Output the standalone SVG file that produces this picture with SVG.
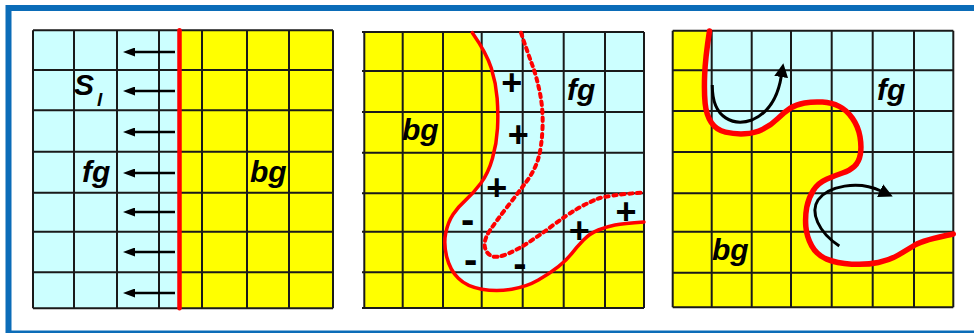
<svg xmlns="http://www.w3.org/2000/svg" width="974" height="333" viewBox="0 0 974 333">
<style>
.cy{fill:#CCFFFF}
.ye{fill:#FFFF00}
.grid{fill:none;stroke:#1a1a1a;stroke-width:2}
.lbl{font-family:"Liberation Sans",Arial,sans-serif;font-weight:bold;font-style:italic;font-size:30px;fill:#000}
.sign{font-family:"Liberation Sans",Arial,sans-serif;font-weight:bold;fill:#000;text-anchor:middle}
.red{fill:none;stroke:#FF0000;stroke-linecap:round;stroke-linejoin:round}
.arr1{fill:none;stroke:#000;stroke-width:2.3}
.arr2{fill:none;stroke:#000;stroke-width:3}
</style>
<defs>
<marker id="ah1" markerUnits="userSpaceOnUse" markerWidth="13" markerHeight="9" refX="1" refY="4.5" orient="auto"><path d="M0,0 L12,4.5 L0,9 Z" fill="#000"/></marker>
<marker id="ah2" markerUnits="userSpaceOnUse" markerWidth="15" markerHeight="14" refX="1" refY="7" orient="auto"><path d="M0,0 L14,7 L0,14 Z" fill="#000"/></marker>
</defs>
<rect width="974" height="333" fill="#FFFFFF"/>
<g id="frame"><rect x="8.5" y="8" width="980" height="325.5" fill="none" stroke="#0B6CB8" stroke-width="6"/></g>

<g id="panel1">
<rect class="cy" x="33" y="30.3" width="146.5" height="278"/>
<rect class="ye" x="179.5" y="30.3" width="153.5" height="278"/>
<path class="grid" d="M33,30.3V308.3M74,30.3V308.3M117,30.3V308.3M159,30.3V308.3M202,30.3V308.3M247,30.3V308.3M289,30.3V308.3M333,30.3V308.3M33,30.3H333M33,70H333M33,110.3H333M33,151.7H333M33,192.7H333M33,231.7H333M33,272.3H333M33,308.3H333"/>
<line class="red" x1="179.5" y1="30.3" x2="179.5" y2="308.3" stroke-width="4.5" stroke-linecap="butt"/>
<text class="lbl" x="74" y="94.5">S</text>
<text class="lbl" x="97" y="106" style="font-size:19px">l</text>
<text class="lbl" x="82" y="181.5">fg</text>
<text class="lbl" x="250" y="182">bg</text>
</g>

<g id="panel2">
<rect class="ye" x="364.3" y="32" width="279.7" height="276"/>
<path class="cy" d="M472.3,32.7 Q486.7,53.3 491.35,68.3 Q496,83.3 497.15,98.3 Q498.3,113.3 497.5,128.3 Q496.7,143.3 492.5,158.3 Q488.3,173.3 480.8,183.3 Q473.3,193.3 465.65,200.15 Q458,207 453,214.5 Q448,222 445.75,233 Q443.5,244 446.75,257 Q450,270 458.35,278.35 Q466.7,286.7 481.7,289.2 Q496.7,291.7 511.7,289.2 Q526.7,286.7 538.35,280 Q550,273.3 558.35,266.65 Q566.7,260 571.85,253.35 Q577,246.7 583.5,240 Q590,233.3 598.35,230 Q606.7,226.7 615,225 Q623.3,223.3 644,222 L644,32 L472.3,32 Z"/>
<path class="grid" d="M364.3,32V308M402.7,32V308M443,32V308M481.7,32V308M522.7,32V308M563.7,32V308M605,32V308M644,32V308M362,32H644M362,71H644M362,112H644M362,152.7H644M362,193.3H644M362,231.7H644M362,272.3H644M362,308H644"/>
<path class="red" stroke-width="3.5" d="M472.3,32.7 Q486.7,53.3 491.35,68.3 Q496,83.3 497.15,98.3 Q498.3,113.3 497.5,128.3 Q496.7,143.3 492.5,158.3 Q488.3,173.3 480.8,183.3 Q473.3,193.3 465.65,200.15 Q458,207 453,214.5 Q448,222 445.75,233 Q443.5,244 446.75,257 Q450,270 458.35,278.35 Q466.7,286.7 481.7,289.2 Q496.7,291.7 511.7,289.2 Q526.7,286.7 538.35,280 Q550,273.3 558.35,266.65 Q566.7,260 571.85,253.35 Q577,246.7 583.5,240 Q590,233.3 598.35,230 Q606.7,226.7 615,225 Q623.3,223.3 644,222"/>
<path class="red" stroke-width="4" stroke-linecap="butt" stroke-linejoin="miter" stroke-dasharray="3.5 4.5" d="M521,32.7 Q526.7,50 531.7,63.35 Q536.7,76.7 540,93.35 Q543.3,110 542.5,128.35 Q541.7,146.7 538.35,158.35 Q535,170 526.5,181.5 Q518,193 507.5,206.5 Q497,220 490.25,230 Q483.5,240 484.75,246.5 Q486,253 491,255.75 Q496,258.5 506.5,254.25 Q517,250 528.5,242.5 Q540,235 553.35,225 Q566.7,215 576.7,209.15 Q586.7,203.3 596.7,199.15 Q606.7,195 644,192.5"/>
<text class="lbl" x="567" y="99.5">fg</text>
<text class="lbl" x="402" y="140">bg</text>
<g style="font-size:36px">
<text class="sign" x="511.7" y="94.8">+</text>
<text class="sign" x="518.3" y="147">+</text>
<text class="sign" x="496.7" y="200.4">+</text>
<text class="sign" x="579.3" y="242.8">+</text>
<text class="sign" x="626" y="224.4">+</text>
</g>
<g style="font-size:40px">
<text class="sign" x="467.7" y="232.9">-</text>
<text class="sign" x="470.7" y="272.9">-</text>
<text class="sign" x="520" y="277.3">-</text>
</g>
</g>

<g id="panel3">
<rect class="ye" x="672.7" y="30.7" width="280.6" height="276.6"/>
<path class="cy" d="M709.5,31 Q705.3,58 704.65,75 Q704,92 705.15,103.5 Q706.3,115 711.3,122.5 Q716.3,130 725.5,132.15 Q734.7,134.3 744.7,133.8 Q754.7,133.3 763,129.15 Q771.3,125 778,118.35 Q784.7,111.7 790.35,108.1 Q796,104.5 804.5,103 Q813,101.5 822.35,102.1 Q831.7,102.7 839.2,106.35 Q846.7,110 852.5,118.35 Q858.3,126.7 860,136.7 Q861.7,146.7 860.35,154.35 Q859,162 854.5,166.25 Q850,170.5 842.5,173 Q835,175.5 826.5,179.25 Q818,183 813.25,190.5 Q808.5,198 806.75,207.35 Q805,216.7 805.85,226.7 Q806.7,236.7 811.7,245.85 Q816.7,255 826.7,259.15 Q836.7,263.3 851.7,264.15 Q866.7,265 878.35,262.5 Q890,260 898.35,255 Q906.7,250 915,245 Q923.3,240 953.3,234 L953.3,30.7 L709.5,30.7 Z"/>
<path class="grid" d="M672.7,30.7V307.3M711.7,30.7V307.3M751.7,30.7V307.3M791,30.7V307.3M831.7,30.7V307.3M872.7,30.7V307.3M914,30.7V307.3M953.3,30.7V307.3M672.7,30.7H953.3M672.7,70.3H953.3M672.7,111H953.3M672.7,152H953.3M672.7,193.3H953.3M672.7,231.7H953.3M672.7,272.7H953.3M672.7,307.3H953.3"/>
<path class="red" stroke-width="5.5" d="M709.5,31 Q705.3,58 704.65,75 Q704,92 705.15,103.5 Q706.3,115 711.3,122.5 Q716.3,130 725.5,132.15 Q734.7,134.3 744.7,133.8 Q754.7,133.3 763,129.15 Q771.3,125 778,118.35 Q784.7,111.7 790.35,108.1 Q796,104.5 804.5,103 Q813,101.5 822.35,102.1 Q831.7,102.7 839.2,106.35 Q846.7,110 852.5,118.35 Q858.3,126.7 860,136.7 Q861.7,146.7 860.35,154.35 Q859,162 854.5,166.25 Q850,170.5 842.5,173 Q835,175.5 826.5,179.25 Q818,183 813.25,190.5 Q808.5,198 806.75,207.35 Q805,216.7 805.85,226.7 Q806.7,236.7 811.7,245.85 Q816.7,255 826.7,259.15 Q836.7,263.3 851.7,264.15 Q866.7,265 878.35,262.5 Q890,260 898.35,255 Q906.7,250 915,245 Q923.3,240 953.3,234"/>
<text class="lbl" x="877" y="100">fg</text>
<text class="lbl" x="712" y="260">bg</text>
</g>

<g id="connectors">
<line class="arr1" x1="175" y1="52" x2="134" y2="52" marker-end="url(#ah1)"/>
<line class="arr1" x1="175" y1="91" x2="134" y2="91" marker-end="url(#ah1)"/>
<line class="arr1" x1="175" y1="132" x2="134" y2="132" marker-end="url(#ah1)"/>
<line class="arr1" x1="175" y1="173" x2="134" y2="173" marker-end="url(#ah1)"/>
<line class="arr1" x1="175" y1="212" x2="134" y2="212" marker-end="url(#ah1)"/>
<line class="arr1" x1="175" y1="252" x2="134" y2="252" marker-end="url(#ah1)"/>
<line class="arr1" x1="175" y1="293" x2="134" y2="293" marker-end="url(#ah1)"/>
<path class="arr2" d="M712.3,85 C712,120 735,126 752,120 C768,113 778,97 781.3,76" marker-end="url(#ah2)"/>
<path class="arr2" d="M839.3,246 C818,232 810,212 818,200 C828,186 858,180 881,191" marker-end="url(#ah2)"/>
</g>
</svg>
